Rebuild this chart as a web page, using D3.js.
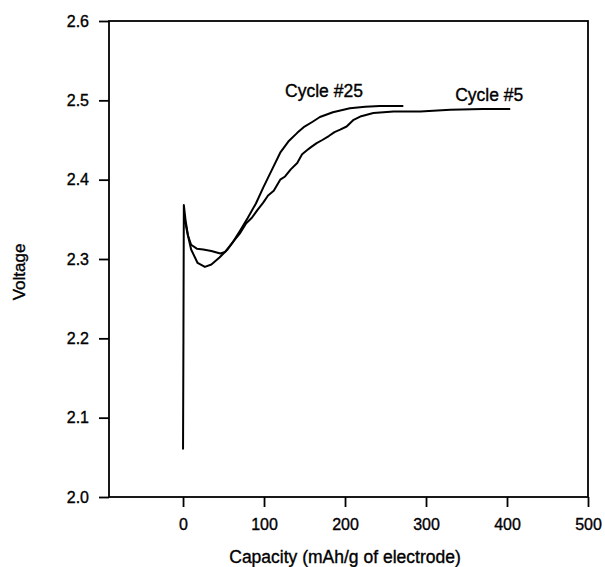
<!DOCTYPE html>
<html>
<head>
<meta charset="utf-8">
<script src="https://cdn.jsdelivr.net/npm/d3@7"></script>
<style>
  html, body { margin: 0; padding: 0; background: #fff; }
  svg text { font-family: "Liberation Sans", Arial, sans-serif; fill: #000; stroke: #000; stroke-width: 0.35px; }
</style>
</head>
<body>
<script>
// ---- Data ----
const xTicks = [0, 100, 200, 300, 400, 500];
const yTicks = [2.0, 2.1, 2.2, 2.3, 2.4, 2.5, 2.6];

// Cycle #5: capacity (mAh/g) and voltage
const cycle5Capacity = [0, 0.5, 1, 3, 6, 10, 17, 25, 35, 46, 52, 62, 70, 78, 85, 92, 99, 105, 112, 120, 126, 133, 141, 147, 153, 158, 165, 172, 180, 187, 194, 202, 210, 220, 235, 260, 293, 330, 370, 404];
const cycle5Voltage  = [2.06, 2.2, 2.368, 2.35, 2.33, 2.318, 2.313, 2.312, 2.31, 2.307, 2.309, 2.322, 2.332, 2.345, 2.352, 2.362, 2.371, 2.380, 2.386, 2.400, 2.404, 2.413, 2.421, 2.432, 2.437, 2.441, 2.446, 2.450, 2.455, 2.460, 2.463, 2.467, 2.475, 2.480, 2.484, 2.486, 2.486, 2.488, 2.489, 2.489];

// Cycle #25
const cycle25Capacity = [1, 3, 6, 10, 18, 27, 35, 45, 55, 62, 70, 80, 90, 99, 110, 120, 130, 141, 150, 160, 169, 185, 206, 225, 243, 272];
const cycle25Voltage  = [2.345, 2.345, 2.33, 2.312, 2.295, 2.29, 2.293, 2.302, 2.312, 2.322, 2.335, 2.352, 2.370, 2.390, 2.413, 2.434, 2.448, 2.459, 2.467, 2.473, 2.479, 2.485, 2.490, 2.492, 2.493, 2.493];

const labels = [
  { text: "Cycle #25", x: 126, y: 2.504 },
  { text: "Cycle #5",  x: 336, y: 2.499 }
];

// ---- Layout ----
const W = 605, H = 567;
const mLeft = 109, mRight = 588, mTop = 21, mBottom = 497;

const x = d3.scaleLinear().domain([-91.4, 500]).range([mLeft, mRight]);
const y = d3.scaleLinear().domain([2.0, 2.6]).range([mBottom, mTop]);

const svg = d3.select("body").append("svg")
  .attr("width", W).attr("height", H);

// frame
svg.append("rect")
  .attr("x", mLeft).attr("y", mTop)
  .attr("width", mRight - mLeft).attr("height", mBottom - mTop)
  .attr("fill", "none").attr("stroke", "#000").attr("stroke-width", 1.8);

// axes
const xAxis = svg.append("g")
  .attr("transform", `translate(0,${mBottom})`)
  .call(d3.axisBottom(x).tickValues(xTicks).tickSizeOuter(0).tickSize(10).tickPadding(12).tickFormat(d3.format("d")));
const yAxis = svg.append("g")
  .attr("transform", `translate(${mLeft},0)`)
  .call(d3.axisLeft(y).tickValues(yTicks).tickSizeOuter(0).tickSize(10).tickPadding(10).tickFormat(d3.format(".1f")));

[xAxis, yAxis].forEach(g => {
  g.select(".domain").remove();
  g.selectAll(".tick line").attr("stroke", "#000").attr("stroke-width", 1.8);
  g.selectAll(".tick text").attr("font-size", 16).attr("fill", "#000");
});

// axis titles
svg.append("text")
  .attr("x", 345).attr("y", 563)
  .attr("text-anchor", "middle").attr("font-size", 17.5)
  .text("Capacity (mAh/g of electrode)");
svg.append("text")
  .attr("transform", "translate(25,272) rotate(-90)")
  .attr("text-anchor", "middle").attr("font-size", 17)
  .text("Voltage");

// lines
const line = d3.line().x(d => x(d[0])).y(d => y(d[1]));
const series = [
  d3.zip(cycle5Capacity, cycle5Voltage),
  d3.zip(cycle25Capacity, cycle25Voltage)
];
svg.append("g").selectAll("path").data(series).join("path")
  .attr("d", line)
  .attr("fill", "none").attr("stroke", "#000").attr("stroke-width", 2)
  .attr("stroke-linejoin", "round");

// labels
svg.append("g").selectAll("text").data(labels).join("text")
  .attr("x", d => x(d.x)).attr("y", d => y(d.y))
  .attr("font-size", 17.5)
  .text(d => d.text);
</script>
</body>
</html>
